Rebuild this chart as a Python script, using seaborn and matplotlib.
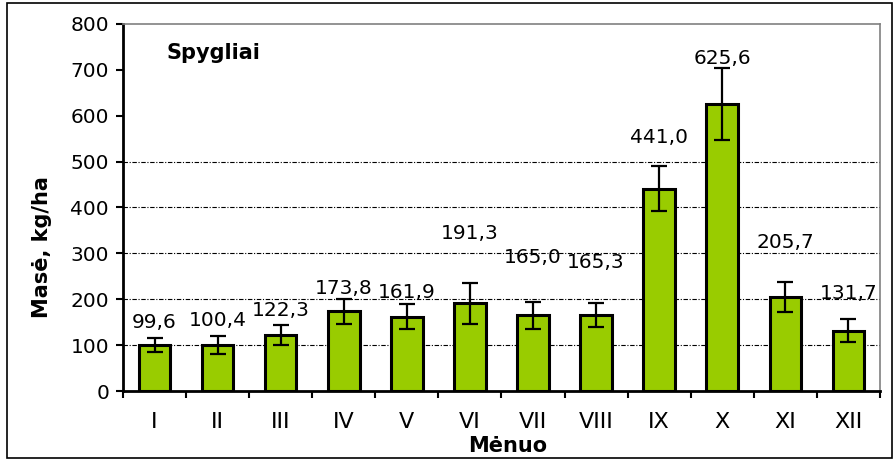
"""Monthly needle mass (Spygliai) bar chart with error bars."""
import matplotlib
matplotlib.use("Agg")
import matplotlib.pyplot as plt
import numpy as np
import pandas as pd
import seaborn as sns
from matplotlib.patches import Rectangle

months = ["I", "II", "III", "IV", "V", "VI", "VII", "VIII", "IX", "X", "XI", "XII"]
mass = [99.6, 100.4, 122.3, 173.8, 161.9, 191.3, 165.0, 165.3, 441.0, 625.6, 205.7, 131.7]
err = [15, 20, 22, 27, 27, 45, 30, 26, 49, 79, 33, 25]
# how far above each bar top the value label sits (data units)
label_lift = [50, 53, 54, 50, 52, 153, 127, 114, 112, 100, 119, 81]
grid_levels = [100, 200, 300, 400, 500]

sns.set_style("ticks")
plt.rcParams["font.family"] = ["DejaVu Sans"]
plt.rcParams.update({"text.color": "black", "axes.labelcolor": "black",
                     "xtick.color": "black", "ytick.color": "black"})

df = pd.DataFrame({"month": months, "mass": mass})

fig = plt.figure(figsize=(8.95, 4.61), dpi=100)
ax = fig.add_axes([0.1374, 0.1518, 0.8458, 0.7962])

for g in grid_levels:
    ax.axhline(g, color="black", lw=0.8, ls=(0, (4, 1.5, 1, 1.5)), zorder=0)

sns.barplot(data=df, x="month", y="mass", color="#99CC00", width=0.5,
            edgecolor="black", linewidth=2.2, saturation=1, errorbar=None, ax=ax,
            zorder=2)
ax.errorbar(np.arange(len(months)), mass, yerr=err, fmt="none", ecolor="black",
            elinewidth=1.6, capsize=5.5, capthick=1.6, zorder=3)

for i, (v, lift) in enumerate(zip(mass, label_lift)):
    ax.text(i, v + lift, f"{v:.1f}".replace(".", ","), ha="center", va="center",
            fontsize=14.5, color="black", zorder=4)

ax.set_ylim(0, 800)
ax.set_xlim(-0.5, len(months) - 0.5)
ax.set_yticks(range(0, 801, 100))
ax.tick_params(axis="y", labelsize=14.5, length=5, width=1.5, pad=5)
ax.set_xticks(np.arange(-0.5, len(months), 1), minor=True)
ax.tick_params(axis="x", which="major", length=0, labelsize=16, pad=15)
ax.tick_params(axis="x", which="minor", length=5, width=1.5)

for side in ("left", "bottom"):
    ax.spines[side].set_linewidth(2)
    ax.spines[side].set_color("black")
for side in ("top", "right"):
    ax.spines[side].set_visible(True)
    ax.spines[side].set_linewidth(1.2)
    ax.spines[side].set_color("#808080")

ax.set_xlabel("Mėnuo", fontsize=15, fontweight="bold", va="top")
ax.xaxis.set_label_coords(0.508, -0.122)
ax.set_ylabel("Masė, kg/ha", fontsize=15, fontweight="bold")
ax.yaxis.set_label_coords(-0.094, 0.392)
ax.text(0.058, 0.92, "Spygliai", transform=ax.transAxes, fontsize=15,
        fontweight="bold", va="center", ha="left")

fig.patches.append(Rectangle((7 / 895, 3 / 461), 885 / 895, 455 / 461,
                             transform=fig.transFigure, fill=False,
                             edgecolor="black", linewidth=1.2))

plt.savefig("out.png", dpi=100)
plt.close()
